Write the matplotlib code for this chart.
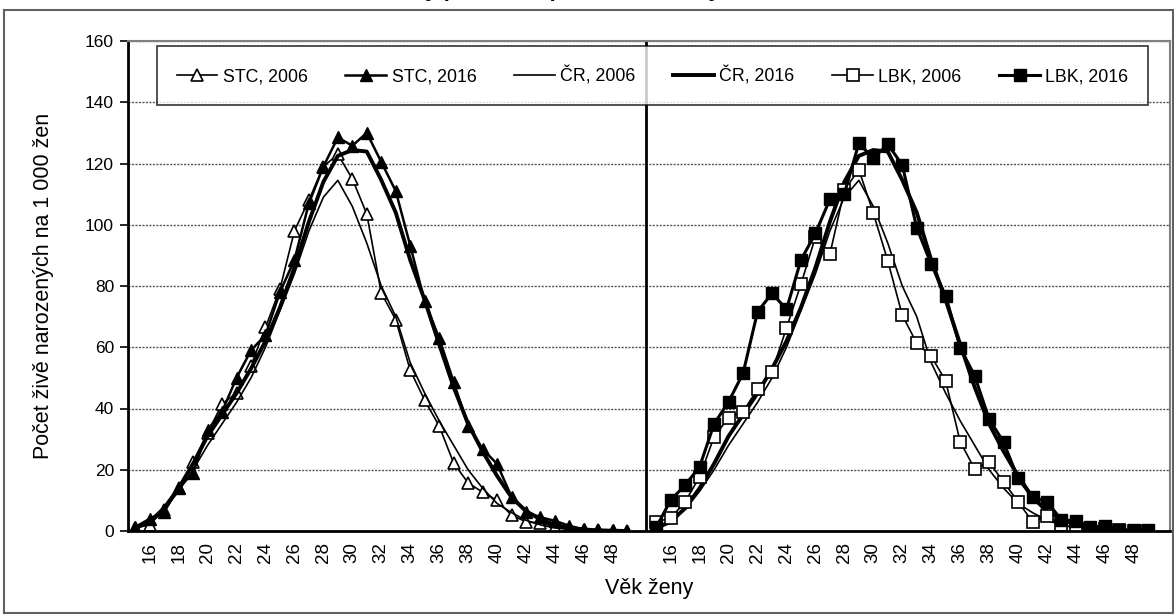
import numpy as np
import matplotlib.pyplot as plt
from matplotlib.patches import Rectangle

plt.rcParams['font.family'] = ['Liberation Sans', 'DejaVu Sans']

ages = np.arange(15, 50)

# age specific fertility rates (live births per 1 000 women)
stc_2006 = [1, 2, 7, 14, 22.5, 32, 41.5, 45, 54, 66.5, 79, 98, 108, 119, 123, 115, 103.5,
            77.7, 69, 52.5, 42.7, 34.3, 22.2, 15.7, 12.7, 10, 5.2, 3, 2.6, 1.4, 0.7, 0.3, 0.2, 0.1, 0]
stc_2016 = [1.3, 4, 6.3, 14, 19, 33, 39, 50, 59, 64, 78, 88.5, 107, 119, 128.5, 125.8, 130,
            120.5, 111, 93.2, 75, 63, 48.7, 34.3, 26.8, 21.9, 11.2, 6.2, 4.5, 3.3, 1.7, 0.5, 0.3, 0.2, 0.1]
cr_2006 = [1, 3, 7, 13, 20, 28, 35, 42, 50, 60, 72, 84, 98, 109, 114.5, 106, 94,
           80, 70, 55, 45, 36, 28, 20, 14, 9, 6, 3.5, 2, 1, 0.5, 0.3, 0.1, 0.1, 0]
cr_2016 = [1, 3, 7.5, 14, 22, 31, 38, 45, 53, 62, 73, 86, 101, 114, 122.5, 124.4, 123.9,
           114.6, 104, 88.5, 75.4, 61, 47, 35, 26, 18, 11, 6.5, 3.8, 2, 1, 0.5, 0.2, 0.1, 0]
lbk_2006 = [3, 4.2, 9.6, 17.7, 30.8, 37, 39, 46.3, 52, 66.3, 80.6, 96, 90.4, 111.3, 118, 103.8, 88.2,
            70.5, 61.3, 57.1, 49, 29.2, 20.3, 22.5, 16, 9.6, 3, 4.9, 2, 1, 0.5, 0.5, 0.2, 0.1, 0]
lbk_2016 = [1.2, 10.1, 15, 21, 35, 42.2, 51.5, 71.6, 77.6, 72.4, 88.5, 97.2, 108.3, 110.2, 126.6, 121.7, 126.3,
            119.5, 99, 87.1, 76.8, 59.9, 50.7, 36.6, 29, 17.2, 11, 9.6, 3.6, 3.4, 1.2, 1.7, 0.3, 0.3, 0.3]

x_left = ages - 15
x_right = ages - 15 + 36

fig = plt.figure(figsize=(11.74, 6.16), dpi=100)
ax = fig.add_axes([128 / 1174, 85 / 616, 1042 / 1174, 490 / 616])

# left panel: STC vs CR
l1, = ax.plot(x_left, stc_2006, color='black', lw=1.2, marker='^', ms=8, mfc='white', mec='black', mew=1.2)
l2, = ax.plot(x_left, stc_2016, color='black', lw=1.8, marker='^', ms=8, mfc='black', mec='black')
l3, = ax.plot(x_left, cr_2006, color='black', lw=1.2)
l4, = ax.plot(x_left, cr_2016, color='black', lw=2.8)
# right panel: LBK vs CR
ax.plot(x_right, cr_2006, color='black', lw=1.2)
ax.plot(x_right, cr_2016, color='black', lw=2.8)
l5, = ax.plot(x_right, lbk_2006, color='black', lw=1.2, marker='s', ms=8, mfc='white', mec='black', mew=1.2)
l6, = ax.plot(x_right, lbk_2016, color='black', lw=2.2, marker='s', ms=8, mfc='black', mec='black')

ax.axvline(35.27, color='black', lw=2, zorder=1)

ax.set_xlim(-0.5, 71.5)
ax.set_ylim(0, 160)
ax.set_yticks(range(0, 161, 20))
ax.yaxis.grid(True, linestyle=(0, (1.5, 1)), color='#555555', lw=1)
ax.set_axisbelow(True)

even = np.arange(16, 49, 2)
ticks = list(even - 15) + list(even - 15 + 36)
ax.set_xticks(ticks)
ax.set_xticklabels([str(a) for a in even] * 2, rotation=90, fontsize=13.5)
ax.tick_params(axis='x', length=0, pad=8)
ax.tick_params(axis='y', length=6, width=1.2, labelsize=12.5, pad=4)

for s in ['left', 'bottom']:
    ax.spines[s].set_linewidth(2)
    ax.spines[s].set_color('black')
for s in ['top', 'right']:
    ax.spines[s].set_linewidth(1.5)
    ax.spines[s].set_color('#808080')

ax.set_ylabel('Počet živě narozených na 1 000 žen', fontsize=15.5)
ax.yaxis.set_label_coords(-0.071, 0.5)
ax.set_xlabel('Věk ženy', fontsize=15.5)
ax.xaxis.set_label_coords(0.5, -0.095)

leg = ax.legend([l1, l2, l3, l4, l5, l6],
                ['STC, 2006', 'STC, 2016', 'ČR, 2006', 'ČR, 2016', 'LBK, 2006', 'LBK, 2016'],
                ncol=6, mode='expand', loc='center', borderaxespad=0,
                bbox_to_anchor=(0.0278, 0.867, 0.951, 0.125),
                fontsize=12.8, frameon=True, fancybox=False, edgecolor='black',
                borderpad=1.1, handlelength=2.3, handletextpad=0.3, columnspacing=1.0)
leg.get_frame().set_linewidth(1.2)

# title sits above the top edge, only its descenders show (as in the source)
fig.text(0.61, 1.0065, 'Míry plodnosti podle věku ženy v STC, ČR a LBK, 2006 a 2016',
         ha='center', va='baseline', fontsize=16, fontweight='bold')

fig.patches.append(Rectangle((4 / 1174, 3 / 616), 1 - 5 / 1174, 603 / 616,
                             transform=fig.transFigure, fill=False, edgecolor='#606060', lw=1.5))

fig.savefig('out.png', dpi=100)
